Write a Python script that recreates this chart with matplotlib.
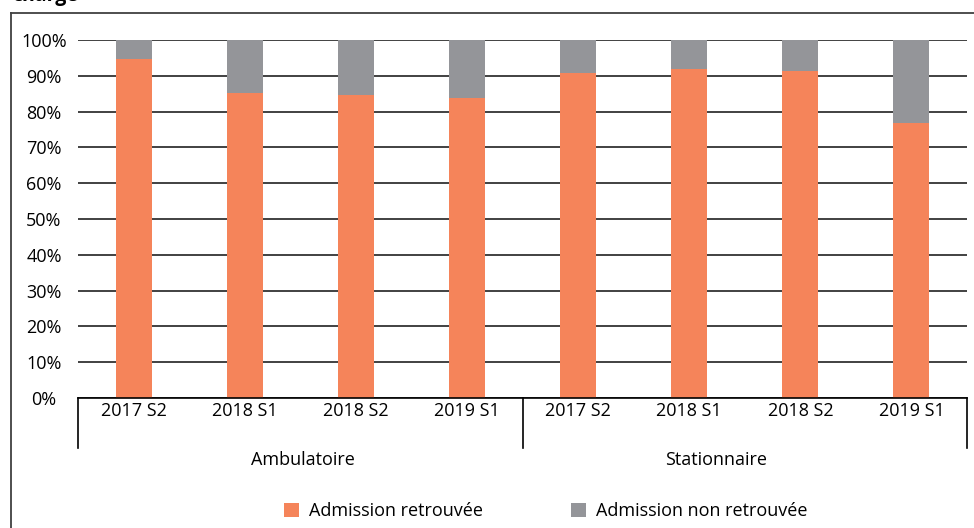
import matplotlib
matplotlib.use('Agg')
import matplotlib.pyplot as plt
from matplotlib.patches import Patch
from matplotlib.lines import Line2D
import numpy as np

plt.rcParams['font.family'] = ['Open Sans', 'DejaVu Sans']

groups = ['Ambulatoire', 'Stationnaire']
periods = ['2017 S2', '2018 S1', '2018 S2', '2019 S1']
retrouvee = [94.7, 85.1, 84.6, 83.8, 90.8, 91.9, 91.3, 76.8]
non_retrouvee = [100 - v for v in retrouvee]
y_ticks = [0, 10, 20, 30, 40, 50, 60, 70, 80, 90, 100]

orange = '#F5845A'
gray = '#949599'

fig = plt.figure(figsize=(9.74, 5.28), dpi=100)
ax = fig.add_axes((78 / 974, 130 / 528, 889 / 974, 358 / 528))

x = np.arange(len(retrouvee))
ax.bar(x, retrouvee, width=0.325, color=orange, zorder=3)
ax.bar(x, non_retrouvee, width=0.325, bottom=retrouvee, color=gray, zorder=3)

ax.set_xlim(-0.5, len(x) - 0.5)
ax.set_ylim(0, 100)
ax.set_yticks(y_ticks)
ax.set_yticklabels([f'{t}%' for t in y_ticks])
ax.set_xticks(x)
ax.set_xticklabels(periods * len(groups))
ax.tick_params(axis='x', length=0, pad=3, labelsize=13)
ax.tick_params(axis='y', length=0, pad=24.5, labelsize=13)
for lab in ax.get_yticklabels():
    lab.set_horizontalalignment('center')

ax.grid(axis='y', color='#333333', linewidth=1.3, zorder=0)
ax.set_axisbelow(True)
for s in ['left', 'right', 'top']:
    ax.spines[s].set_visible(False)
ax.spines['bottom'].set_color('black')
ax.spines['bottom'].set_linewidth(1.2)
ax.spines['bottom'].set_zorder(4)

# group separators and labels
tr = ax.get_xaxis_transform()
n = len(periods)
for k in range(len(groups) + 1):
    xs = k * n - 0.5
    ax.add_line(Line2D([xs, xs], [0, -50 / 358], transform=tr, color='black',
                       linewidth=1.2, clip_on=False))
group_label_x = [1.52, 5.24]
for gx, g in zip(group_label_x, groups):
    ax.text(gx, -62 / 358, g, transform=tr, ha='center',
            va='center', fontsize=13)

# frame
fig.add_artist(Line2D([11 / 974, 1], [1 - 13 / 528, 1 - 13 / 528],
                      transform=fig.transFigure, color='#404040', linewidth=1.3))
fig.add_artist(Line2D([11 / 974, 11 / 974], [0, 1 - 13 / 528],
                      transform=fig.transFigure, color='#404040', linewidth=1.3))
fig.text(12 / 974, 1 - 1.5 / 528, 'charge', fontsize=14, fontweight='bold',
         va='baseline', ha='left')

handles = [Patch(facecolor=orange, label='Admission retrouvée'),
           Patch(facecolor=gray, label='Admission non retrouvée')]
fig.legend(handles=handles, loc='center', bbox_to_anchor=(546 / 974, 1 - 511 / 528),
           ncol=2, frameon=False, fontsize=13, handlelength=0.83,
           handleheight=0.83, handletextpad=0.55, columnspacing=4.9,
           borderpad=0, borderaxespad=0)

fig.savefig('out.png', dpi=100)
